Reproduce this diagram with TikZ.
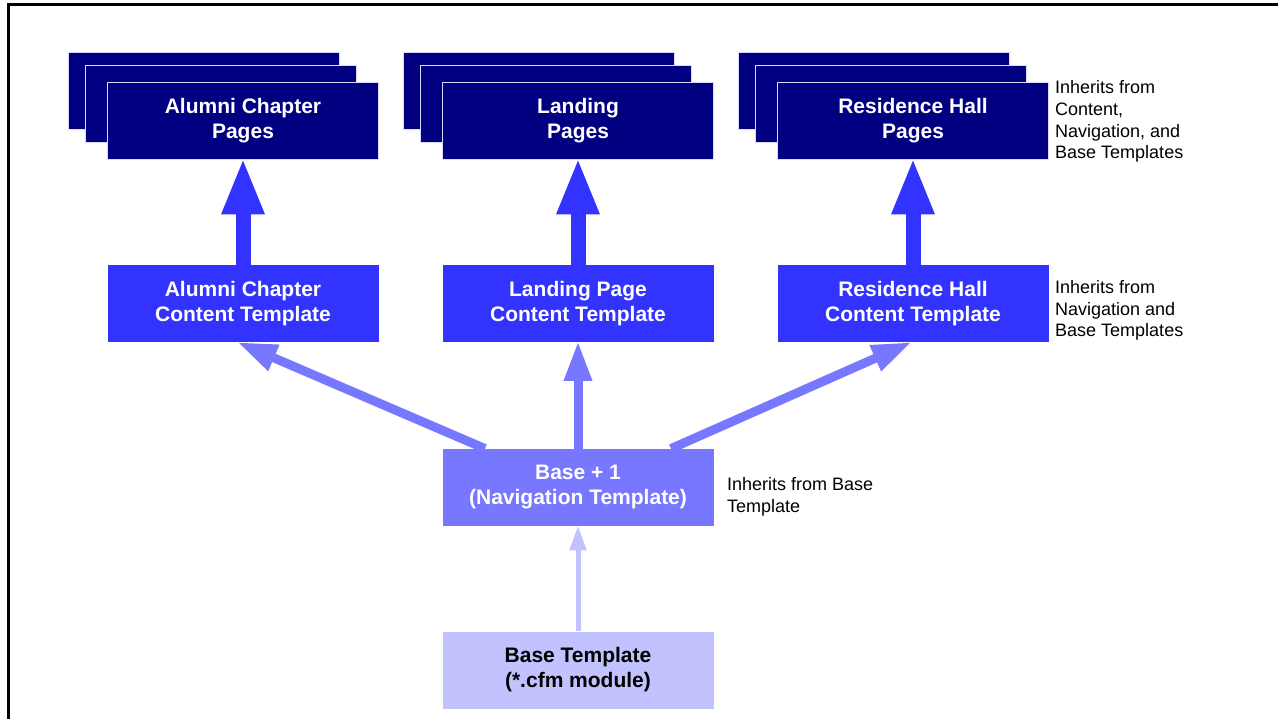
\documentclass[tikz,border=0pt]{standalone}
\usepackage{fontspec}
\setmainfont{Liberation Sans}
\usepackage{tikz}
\usetikzlibrary{arrows.meta,positioning}

\definecolor{pagenavy}{RGB}{0,0,128}
\definecolor{contentblue}{RGB}{51,51,255}
\definecolor{navblue}{RGB}{119,119,255}
\definecolor{baseblue}{RGB}{194,194,255}

\begin{document}
\begin{tikzpicture}[x=1pt,y=-1pt,
	pagebox/.style={shape=rectangle,fill=pagenavy,draw=blue!15!white,line width=0.8pt,
		minimum width=271pt,minimum height=77pt,inner sep=0pt,text=white,align=center,
		font=\fontsize{21}{25}\selectfont\bfseries},
	contentbox/.style={pagebox,fill=contentblue,draw=none},
	navbox/.style={pagebox,fill=navblue,draw=none},
	basebox/.style={pagebox,fill=baseblue,draw=none,text=black},
	note/.style={anchor=west,inner sep=0pt,align=left,font=\fontsize{18}{21.8}\selectfont},
	bigarrow/.style={draw=contentblue,line width=15pt,shorten >=-2.5pt,-{Triangle[length=57pt,width=39pt]}},
	navarrow/.style={draw=navblue,line width=9pt,shorten >=-2pt,-{Triangle[length=40pt,width=26pt]}},
	basearrow/.style={draw=baseblue,line width=5pt,shorten >=-1pt,-{Triangle[length=25pt,width=16pt]}}]
	\useasboundingbox (0,0) rectangle (1278,719);
	% frame
	\draw[line width=3pt] (1278,5) -- (8,5) -- (8,719);
	% stacked pages
	\path (204,91) node [pagebox] {}
		  (221,104) node [pagebox] {}
		  (243,121) node (alumni) [pagebox] {Alumni Chapter\\Pages};
	\path (539,91) node [pagebox] {}
		  (556,104) node [pagebox] {}
		  (578,121) node (landing) [pagebox] {Landing\\Pages};
	\path (874,91) node [pagebox] {}
		  (891,104) node [pagebox] {}
		  (913,121) node (residence) [pagebox] {Residence Hall\\Pages};
	% templates
	\path (243,304) node (alumnict) [contentbox] {Alumni Chapter\\Content Template}
		  (578,304) node (landingct) [contentbox] {Landing Page\\Content Template}
		  (913,304) node (residencect) [contentbox] {Residence Hall\\Content Template}
		  (578,487.5) node (nav) [navbox] {Base + 1\\(Navigation Template)}
		  (578,670) node (base) [basebox] {Base Template\\(*.cfm module)};
	% notes
	\path (1055,121.5) node (pagenote) [note] {Inherits from\\Content,\\Navigation, and\\Base Templates}
		  (1055,310.5) node (ctnote) [note] {Inherits from\\Navigation and\\Base Templates}
		  (727,496.5) node (navnote) [note] {Inherits from Base\\Template};
	\draw[bigarrow] (alumnict) -- (alumni);
	\draw[bigarrow] (landingct) -- (landing);
	\draw[bigarrow] (residencect) -- (residence);
	\draw[navarrow] ([xshift=-93pt]nav.north) -- ([xshift=-4pt]alumnict.south);
	\draw[navarrow] (nav) -- (landingct);
	\draw[navarrow] ([xshift=93pt]nav.north) -- ([xshift=-3pt]residencect.south);
	\draw[basearrow] (base) -- (nav);
\end{tikzpicture}
\end{document}
